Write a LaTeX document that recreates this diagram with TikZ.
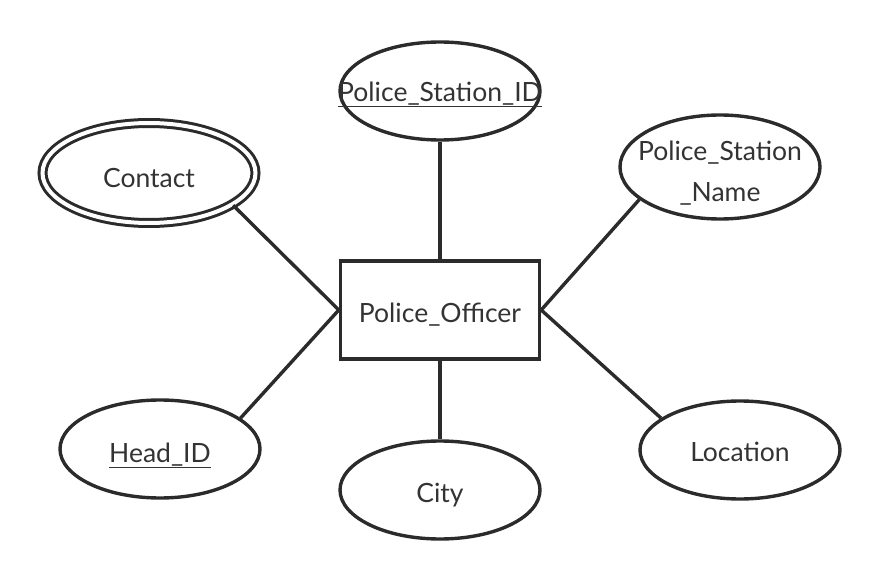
\documentclass[tikz,border=0pt]{standalone}
\usepackage{fontspec}
\setmainfont{Lato}
\usetikzlibrary{shapes.geometric}
\definecolor{ink}{HTML}{2B2B2B}
\definecolor{txt}{HTML}{333333}
\newcommand{\nowidth}[2][-12.5pt]{\makebox[0pt]{\smash{\raisebox{#1}{#2}}}}
\begin{document}
\begin{tikzpicture}[x=1pt,y=-1pt]
	\tikzset{attr/.style={ellipse,draw=ink,line width=3.4pt,minimum width=200pt,minimum height=98pt,inner sep=0pt,text=txt,font=\fontsize{26.5}{38}\selectfont}}
	\tikzset{entity/.style={rectangle,draw=ink,line width=3.4pt,minimum width=199pt,minimum height=98pt,inner sep=0pt,text=txt,font=\fontsize{26.5}{38}\selectfont}}
	\tikzset{multi/.style={attr,double,double distance=4pt,line width=3pt,minimum width=213pt,minimum height=100pt}}
	\tikzset{link/.style={draw=ink,line width=3.4pt}}
	\useasboundingbox (0,0) rectangle (881,580);
	\node[entity] (officer) at (440,310) {\nowidth{Police\_Officer}};
	\node[attr] (stationid) at (440,91) {\nowidth[-10.5pt]{\underline{Police\_Station\_ID}}};
	\node[attr,minimum height=104pt] (stationname) at (720,167) {\nowidth[6.5pt]{\begin{tabular}[t]{@{}c@{}}Police\_Station\\[3pt]\_Name\end{tabular}}};
	\node[multi] (contact) at (149,173) {\nowidth[-14.5pt]{Contact}};
	\node[attr] (headid) at (160,449) {\nowidth[-13.5pt]{\underline{Head\_ID}}};
	\node[attr] (city) at (440,490) {\nowidth[-12pt]{City}};
	\node[attr] (location) at (740,450) {\nowidth[-11.5pt]{Location}};
	\draw[link] (officer.north) -- (stationid);
	\draw[link] (officer.south) -- (city);
	\draw[link] (officer.west) -- (contact.-21);
	\draw[link] (officer.west) -- (headid.21);
	\draw[link] (officer.east) -- (stationname.-158);
	\draw[link] (officer.east) -- (location.158);
\end{tikzpicture}
\end{document}
